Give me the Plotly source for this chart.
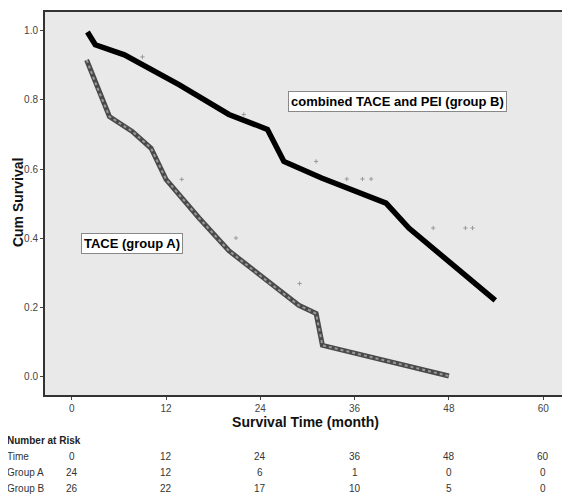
import plotly.graph_objects as go

# Survival curves
groupB_t = [2.0, 3.0, 6.7, 13.7, 20.0, 24.9, 27.0, 31.8, 40.0, 42.9, 53.9]
groupB_s = [0.997, 0.960, 0.931, 0.844, 0.758, 0.715, 0.622, 0.574, 0.501, 0.429, 0.219]

groupA_t = [1.9, 3.2, 4.8, 7.7, 10.1, 12.0, 16.2, 20.0, 25.1, 28.9, 31.1, 31.9, 48.0]
groupA_s = [0.916, 0.839, 0.752, 0.709, 0.660, 0.570, 0.458, 0.363, 0.271, 0.205, 0.181, 0.089, 0.0]

# censor marks
cens_t = [9.0, 21.9, 14.0, 20.9, 31.1, 35.0, 37.0, 38.1, 46.0, 50.1, 51.0, 29.0]
cens_s = [0.925, 0.758, 0.570, 0.400, 0.622, 0.571, 0.571, 0.571, 0.429, 0.429, 0.429, 0.268]

# number at risk table
risk_times = [0, 12, 24, 36, 48, 60]
risk_A = [24, 12, 6, 1, 0, 0]
risk_B = [26, 22, 17, 10, 5, 0]

x_ticks = [0, 12, 24, 36, 48, 60]
y_ticks = [0.0, 0.2, 0.4, 0.6, 0.8, 1.0]

fig = go.Figure()
fig.add_trace(go.Scatter(x=groupA_t, y=groupA_s, mode="lines",
                         line=dict(color="#4a4a4a", width=5), hoverinfo="skip"))
fig.add_trace(go.Scatter(x=groupA_t, y=groupA_s, mode="lines",
                         line=dict(color="#9a9a9a", width=2, dash="dot"), hoverinfo="skip"))
fig.add_trace(go.Scatter(x=groupB_t, y=groupB_s, mode="lines",
                         line=dict(color="black", width=5.5), hoverinfo="skip"))
fig.add_trace(go.Scatter(x=cens_t, y=cens_s, mode="markers",
                         marker=dict(symbol="cross-thin", size=3, line=dict(color="#999", width=1)),
                         hoverinfo="skip"))

font = "Liberation Sans, Arial, sans-serif"

# plot area in page pixels: x 45..568, y 10..395
PX0, PX1, PY0, PY1 = 45.0, 568.0, 10.0, 395.0
def ppx(p):
    return (p - PX0) / (PX1 - PX0)
def ppy(p):
    return (PY1 - p) / (PY1 - PY0)

anns = []
anns.append(dict(x=41.4, y=0.795, xref="x", yref="y", text="<b>combined TACE and PEI (group B)</b>",
                 showarrow=False, bgcolor="white", bordercolor="#888", borderwidth=1, borderpad=2,
                 font=dict(family=font, size=13, color="black")))
anns.append(dict(x=7.7, y=0.383, xref="x", yref="y", text="<b>TACE (group A)</b>",
                 showarrow=False, bgcolor="white", bordercolor="#888", borderwidth=1, borderpad=2,
                 font=dict(family=font, size=13, color="black")))
anns.append(dict(x=ppx(18), y=ppy(202), xref="paper", yref="paper", text="<b>Cum Survival</b>",
                 textangle=-90, showarrow=False, xanchor="center", yanchor="middle",
                 font=dict(family=font, size=14, color="#111")))

# table
row_y = [457, 473, 489]
anns.append(dict(x=ppx(5), y=ppy(441), xref="paper", yref="paper", xanchor="left", yanchor="middle",
                 text="<b>Number at Risk</b>", showarrow=False,
                 font=dict(family=font, size=10, color="#222")))
labels = ["Time", "Group A", "Group B"]
rows = [risk_times, risk_A, risk_B]
for lab, yy, vals in zip(labels, row_y, rows):
    anns.append(dict(x=ppx(5), y=ppy(yy), xref="paper", yref="paper", xanchor="left", yanchor="middle",
                     text=lab, showarrow=False, font=dict(family=font, size=10, color="#333")))
    for t, v in zip(risk_times, vals):
        anns.append(dict(x=t, y=ppy(yy), xref="x", yref="paper", xanchor="center", yanchor="middle",
                         text=str(v), showarrow=False, font=dict(family=font, size=10, color="#333")))

fig.update_layout(
    width=562, height=492,
    margin=dict(l=37, r=2, t=2, b=105),
    paper_bgcolor="white", plot_bgcolor="#e9e9e9",
    showlegend=False,
    annotations=anns,
    font=dict(family=font),
)
fig.update_xaxes(range=[-3.4, 62.9], tickvals=x_ticks, ticks="outside", ticklen=3,
                 tickcolor="#444", showgrid=False, zeroline=False,
                 showline=True, linecolor="#333", linewidth=2, mirror=True,
                 tickfont=dict(size=10, color="#444", family=font),
                 title=dict(text="<b>Survival Time (month)</b>", font=dict(size=14, color="#111", family=font),
                            standoff=4))
fig.update_yaxes(range=[-0.055, 1.055], tickvals=y_ticks, tickformat=".1f", ticks="outside", ticklen=3,
                 tickcolor="#444", showgrid=False, zeroline=False,
                 showline=True, linecolor="#333", linewidth=2, mirror=True,
                 tickfont=dict(size=10, color="#444", family=font))

fig.write_html("out.html")
